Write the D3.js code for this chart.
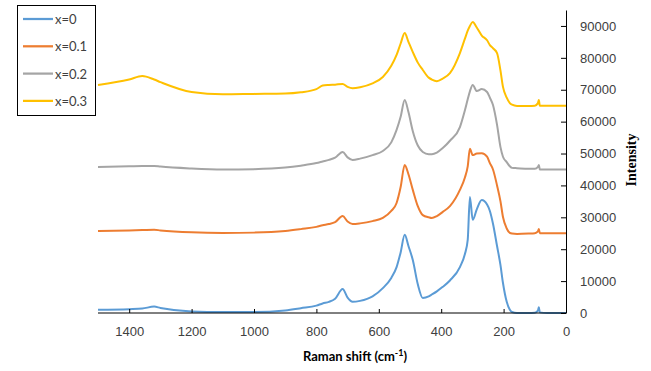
<!DOCTYPE html>
<html>
<head>
<meta charset="utf-8">
<script src="https://cdn.jsdelivr.net/npm/d3@7.9.0/dist/d3.min.js"></script>
<style>
  body { margin: 0; background: #fff; }
  svg { display: block; font-family: Lato, "Open Sans", sans-serif; }
</style>
</head>
<body>
<svg id="chart" width="651" height="371"></svg>
<script>
// Raman shift grid (cm-1), shared by all spectra
const shift = [1500, 1400, 1358, 1320, 1300, 1200, 1100, 1000, 900, 850, 800, 780, 760, 740, 716, 700, 684, 660, 620, 587,
  560, 543, 530, 517, 505, 491, 475, 459, 440, 430, 414, 395, 372, 340, 324, 315, 308, 299, 286, 270,
  253, 244, 234, 221, 210, 202, 190, 180, 173, 157, 120, 100, 90, 87, 84, 60, 0];

const x0 = [1000, 1200, 1400, 2000, 1600, 500, 300, 300, 800, 1500, 2300, 3000, 3500, 4500, 7500, 4800, 3500, 3800, 5200, 7800,
  11000, 14400, 19000, 24500, 21000, 16600, 9000, 4700, 5200, 5800, 6800, 8200, 10200, 14400, 18500, 22900, 36400, 29200, 32500, 35400,
  34000, 32000, 28000, 21000, 15000, 9400, 3500, 1000, 300, 0, 0, 100, 800, 1800, 200, 0, 0];

const x01 = [25700, 25900, 26000, 26100, 25900, 25300, 25100, 25200, 25700, 26300, 27000, 27500, 27900, 28500, 30400, 28700, 27900, 28100, 28800, 29800,
  32000, 34500, 39500, 46400, 43500, 38600, 33500, 30700, 30000, 29800, 30400, 31700, 33500, 38600, 42500, 46000, 51500, 49500, 50000, 50100,
  49000, 47000, 45000, 40000, 35000, 30100, 26500, 25100, 24900, 24800, 24900, 25000, 25600, 26300, 25000, 25000, 25000];

const x02 = [45800, 46000, 46100, 46100, 45900, 45300, 45000, 45100, 45600, 46200, 47000, 47500, 48000, 48700, 50500, 48800, 48000, 48400, 49500, 50800,
  53500, 57400, 61500, 66800, 63000, 57000, 52500, 50500, 49800, 49800, 50300, 51700, 54000, 58300, 63600, 67000, 69500, 71500, 69600, 70200,
  69300, 67500, 65200, 59000, 52000, 49000, 47300, 46000, 45500, 45400, 45200, 45200, 45800, 46400, 45000, 45000, 45000];

const x03 = [71500, 73200, 74300, 73200, 72400, 69300, 68600, 68700, 68800, 69200, 70200, 71300, 71500, 71600, 71800, 70900, 70500, 70800, 72000, 74000,
  77500, 80900, 84500, 87800, 85000, 81800, 78500, 76200, 73800, 73200, 72700, 73500, 75200, 81500, 86000, 88500, 90000, 91200, 89500, 87000,
  85500, 84000, 83000, 81500, 76000, 70900, 67500, 65800, 65300, 64900, 64900, 65000, 65800, 66800, 65000, 65000, 65000];

const names = ['x=0', 'x=0.1', 'x=0.2', 'x=0.3'];
const colors = ['#5B9BD5', '#ED7D31', '#A5A5A5', '#FFC000'];
const xTicks = [1400, 1200, 1000, 800, 600, 400, 200, 0];
const yTicks = [0, 10000, 20000, 30000, 40000, 50000, 60000, 70000, 80000, 90000];

const series = [x0, x01, x02, x03].map((vals, i) => ({
  name: names[i],
  color: colors[i],
  points: shift.map((s, j) => ({ s: s, v: vals[j] }))
}));

const svg = d3.select('#chart');
const x = d3.scaleLinear().domain([1500, 0]).range([98, 566]);
const y = d3.scaleLinear().domain([0, 95000]).range([313, 10]);
const textColor = '#404040';

// lines
const line = d3.line()
  .x(d => x(d.s))
  .y(d => y(d.v))
  .curve(d3.curveMonotoneX);

series.forEach(sr => {
  svg.append('path')
    .datum(sr.points)
    .attr('d', line)
    .attr('fill', 'none')
    .attr('stroke', sr.color)
    .attr('stroke-width', 2)
    .attr('stroke-linejoin', 'round');
});

// x axis (ticks inside, pointing up)
const xAxis = svg.append('g')
  .attr('transform', `translate(0,${y(0)})`)
  .call(d3.axisBottom(x).tickValues(xTicks).tickFormat(d3.format('d')).tickSizeInner(-4).tickSizeOuter(0).tickPadding(14));
xAxis.select('.domain').attr('stroke', '#000').attr('d', `M${x(1500)},0H${x(0)}`);
xAxis.selectAll('.tick line').attr('stroke', '#000');
xAxis.selectAll('.tick text').attr('fill', textColor).style('font-size', '13px');

// y axis on right (ticks inside, pointing left)
const yAxis = svg.append('g')
  .attr('transform', `translate(${x(0)},0)`)
  .call(d3.axisRight(y).tickValues(yTicks).tickFormat(d3.format('d')).tickSizeInner(-5).tickSizeOuter(0).tickPadding(14));
yAxis.select('.domain').attr('stroke', '#000');
yAxis.selectAll('.tick line').attr('stroke', '#000');
yAxis.selectAll('.tick text').attr('fill', textColor).style('font-size', '13px');

// axis titles
const xt = svg.append('text')
  .attr('x', 355).attr('y', 361)
  .attr('text-anchor', 'middle')
  .attr('font-weight', 'bold')
  .attr('font-size', 13)
  .attr('fill', '#000');
xt.append('tspan').text('Raman shift (cm');
xt.append('tspan').text('-1').attr('font-size', 9).attr('dy', -5);
xt.append('tspan').text(')').attr('dy', 5);

svg.append('text')
  .attr('transform', 'translate(636,160) rotate(-90)')
  .attr('text-anchor', 'middle')
  .attr('font-family', '"Liberation Serif", serif')
  .attr('font-weight', 'bold')
  .attr('font-size', 14)
  .attr('fill', '#000')
  .text('Intensity');

// legend
const legend = svg.append('g');
legend.append('rect')
  .attr('x', 17.5).attr('y', 5.5).attr('width', 78).attr('height', 110)
  .attr('fill', '#fff').attr('stroke', '#000').attr('stroke-width', 1);
series.forEach((sr, i) => {
  const ly = 19 + i * 27.3;
  legend.append('line')
    .attr('x1', 23).attr('x2', 53).attr('y1', ly).attr('y2', ly)
    .attr('stroke', sr.color).attr('stroke-width', 2.25);
  legend.append('text')
    .attr('x', 55).attr('y', ly + 5)
    .attr('font-size', 13)
    .attr('fill', textColor)
    .text(sr.name);
});
</script>
</body>
</html>
